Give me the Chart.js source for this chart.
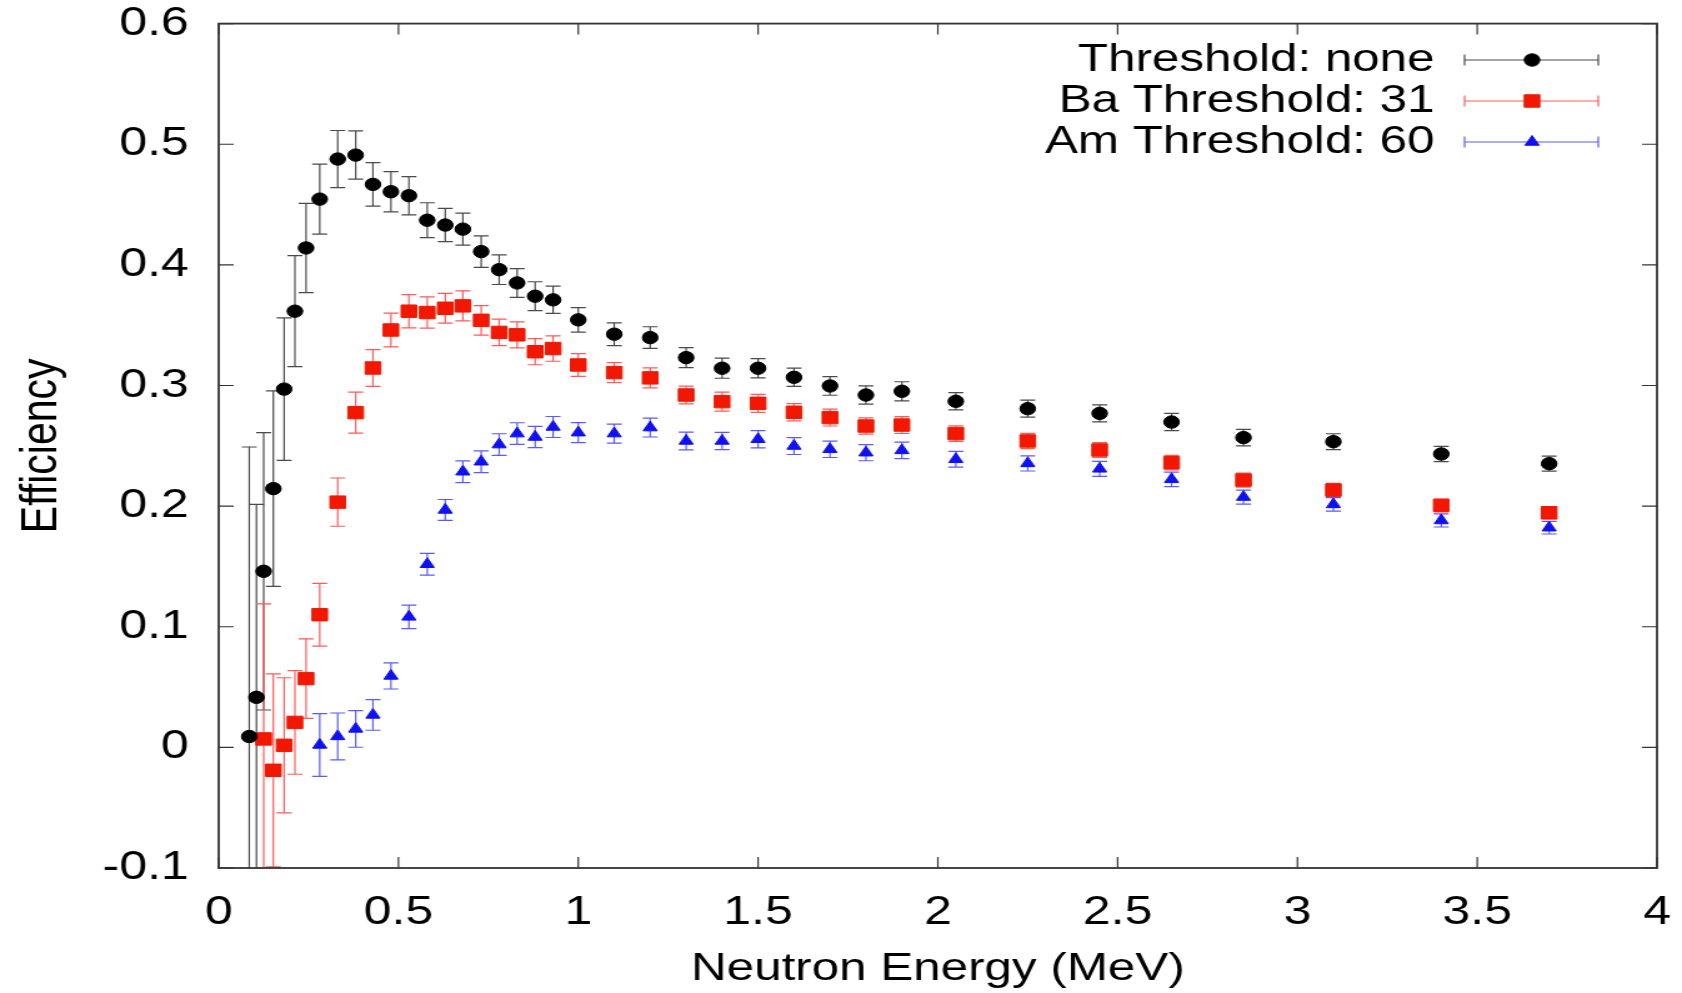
<!DOCTYPE html>
<html lang="en">

<head>
    <meta charset="UTF-8">
    <title>Efficiency vs Neutron Energy</title>
    <script src="https://cdn.jsdelivr.net/npm/chart.js"></script>
    <style>
        html, body { margin: 0; padding: 0; background: #fff; overflow: hidden; }
        /* gnuplot output was wide: draw at 1346 px and stretch to 1682 */
        #wrap { width: 1346px; height: 993px; transform: scaleX(1.24963); transform-origin: 0 0; }
    </style>
</head>

<body>
    <div id="wrap"><canvas id="effChart" width="1346" height="993"></canvas></div>
</body>

</html>
<script>
    // neutron energies (MeV)
    const energias = [0.085, 0.105, 0.125, 0.152, 0.182, 0.212, 0.243, 0.281, 0.331, 0.381,
        0.429, 0.479, 0.529, 0.58, 0.63, 0.679, 0.73, 0.78, 0.83, 0.88,
        0.93, 1.0, 1.1, 1.2, 1.3, 1.4, 1.5, 1.6, 1.7, 1.8,
        1.9, 2.05, 2.25, 2.45, 2.65, 2.85, 3.1, 3.4, 3.7];

    // no threshold: all energies
    const efNone = [0.009, 0.0415, 0.146, 0.2145, 0.297, 0.3616, 0.414, 0.4545, 0.4877, 0.491,
        0.4667, 0.4606, 0.4573, 0.437, 0.433, 0.4296, 0.411, 0.396, 0.385, 0.374,
        0.371, 0.3544, 0.3425, 0.3397, 0.3231, 0.3143, 0.3143, 0.3068, 0.2996, 0.2921,
        0.2952, 0.2869, 0.2808, 0.2769, 0.2697, 0.2568, 0.2534, 0.2432, 0.2352];
    const errNone = [0.24, 0.16, 0.115, 0.081, 0.059, 0.046, 0.037, 0.029, 0.0237, 0.020,
        0.018, 0.0167, 0.0158, 0.0145, 0.0138, 0.0133, 0.0131, 0.0123, 0.0119, 0.012,
        0.0113, 0.0101, 0.0094, 0.009, 0.0083, 0.0083, 0.008, 0.0076, 0.0077, 0.0075,
        0.0079, 0.0072, 0.007, 0.007, 0.0072, 0.0068, 0.0066, 0.0064, 0.0062];

    // Ba threshold 31: starts at 0.125 MeV
    const inicioBa = 2;
    const efBa = [0.007, -0.019, 0.0017, 0.0207, 0.057, 0.110, 0.2033, 0.2775, 0.3145, 0.346,
        0.3616, 0.3605, 0.364, 0.366, 0.354, 0.344, 0.342, 0.328, 0.3306, 0.317,
        0.3107, 0.3063, 0.2921, 0.2866, 0.2852, 0.2778, 0.2734, 0.2664, 0.2672, 0.2601,
        0.254, 0.2465, 0.236, 0.2216, 0.2133, 0.2006, 0.1945];
    const errBa = [0.112, 0.08, 0.056, 0.043, 0.033, 0.026, 0.020, 0.017, 0.0152, 0.014,
        0.0138, 0.013, 0.0123, 0.0124, 0.0122, 0.011, 0.0108, 0.0108, 0.0105, 0.0094,
        0.0083, 0.0083, 0.0073, 0.0079, 0.0075, 0.0072, 0.007, 0.0068, 0.007, 0.0065,
        0.0063, 0.0062, 0.006, 0.0058, 0.0055, 0.0053, 0.0052];

    // Am threshold 60: starts at 0.28 MeV
    const inicioAm = 7;
    const efAm = [0.002, 0.0091, 0.0153, 0.0269, 0.0592, 0.1082, 0.1518, 0.1968, 0.2285, 0.2368,
        0.251, 0.2601, 0.2573, 0.2656, 0.2609, 0.2601, 0.2651, 0.254, 0.254, 0.2554,
        0.2498, 0.2471, 0.2443, 0.2462, 0.2388, 0.2354, 0.2309, 0.2222, 0.2075, 0.2014,
        0.1881, 0.1821];
    const errAm = [0.026, 0.0194, 0.0152, 0.0127, 0.0108, 0.0097, 0.009, 0.0087, 0.009, 0.009,
        0.009, 0.009, 0.0088, 0.0087, 0.0083, 0.0078, 0.0078, 0.0073, 0.0072, 0.0072,
        0.007, 0.0068, 0.0067, 0.0068, 0.0065, 0.0063, 0.0062, 0.006, 0.0058, 0.0056,
        0.0054, 0.0052];

    const xTicks = [0, 0.5, 1, 1.5, 2, 2.5, 3, 3.5, 4];
    const xTickLabels = ['0', '0.5', '1', '1.5', '2', '2.5', '3', '3.5', '4'];
    const yTicks = [-0.1, 0, 0.1, 0.2, 0.3, 0.4, 0.5, 0.6];
    const yTickLabels = ['-0.1', '0', '0.1', '0.2', '0.3', '0.4', '0.5', '0.6'];

    function montarPontos(valores, inicio) {
        return valores.map((v, i) => ({ x: energias[inicio + i], y: v }));
    }

    // vertical error bars with caps, under the markers
    const barrasErro = {
        id: 'barrasErro',
        beforeDatasetsDraw(chart) {
            const ctx = chart.ctx;
            const area = chart.chartArea;
            const sx = chart.scales.x, sy = chart.scales.y;
            ctx.save();
            ctx.beginPath();
            ctx.rect(area.left, area.top, area.right - area.left, area.bottom - area.top);
            ctx.clip();
            chart.data.datasets.forEach(ds => {
                ctx.strokeStyle = ds.corErro;
                ctx.lineWidth = 1.2;
                ds.data.forEach((p, i) => {
                    const e = ds.erros[i];
                    const px = sx.getPixelForValue(p.x);
                    const cima = sy.getPixelForValue(p.y + e);
                    const baixo = sy.getPixelForValue(p.y - e);
                    ctx.beginPath();
                    ctx.moveTo(px, cima); ctx.lineTo(px, baixo);
                    ctx.moveTo(px - 6, cima); ctx.lineTo(px + 6, cima);
                    ctx.moveTo(px - 6, baixo); ctx.lineTo(px + 6, baixo);
                    ctx.stroke();
                });
            });
            ctx.restore();
        }
    };

    // frame with inward ticks on all four sides, plus the key
    const moldura = {
        id: 'moldura',
        afterDraw(chart) {
            const ctx = chart.ctx;
            const a = chart.chartArea;
            const sx = chart.scales.x, sy = chart.scales.y;
            ctx.save();
            ctx.strokeStyle = '#333';
            ctx.lineWidth = 1.2;
            ctx.beginPath();
            xTicks.forEach(v => {
                const px = sx.getPixelForValue(v);
                ctx.moveTo(px, a.bottom); ctx.lineTo(px, a.bottom - 11);
                ctx.moveTo(px, a.top); ctx.lineTo(px, a.top + 11);
            });
            yTicks.forEach(v => {
                const py = sy.getPixelForValue(v);
                ctx.moveTo(a.left, py); ctx.lineTo(a.left + 12, py);
                ctx.moveTo(a.right, py); ctx.lineTo(a.right - 12, py);
            });
            ctx.stroke();
            ctx.lineWidth = 1.8;
            ctx.strokeRect(a.left, a.top, a.right - a.left, a.bottom - a.top);

            // key
            ctx.font = '39.5px "Liberation Sans", Arial, sans-serif';
            ctx.textAlign = 'right';
            ctx.textBaseline = 'middle';
            chart.data.datasets.forEach((ds, i) => {
                const y = 60 + i * 41;
                ctx.fillStyle = '#000';
                ctx.fillText(ds.label, 1148, y);
                ctx.strokeStyle = ds.corErro;
                ctx.lineWidth = 1.2;
                ctx.beginPath();
                ctx.moveTo(1172, y); ctx.lineTo(1279, y);
                ctx.moveTo(1172, y - 5.5); ctx.lineTo(1172, y + 5.5);
                ctx.moveTo(1279, y - 5.5); ctx.lineTo(1279, y + 5.5);
                ctx.stroke();
                ctx.fillStyle = ds.backgroundColor;
                ctx.strokeStyle = ds.backgroundColor;
                ctx.lineWidth = 1;
                Chart.helpers.drawPoint(ctx, {
                    pointStyle: ds.pointStyle, radius: ds.pointRadius, rotation: 0, borderWidth: 1
                }, 1226, y);
            });
            ctx.restore();
        }
    };

    Chart.defaults.font.family = '"Liberation Sans", Arial, sans-serif';
    Chart.defaults.color = '#000';

    const dados = {
        datasets: [{
            label: 'Threshold: none',
            data: montarPontos(efNone, 0),
            erros: errNone,
            corErro: '#4a4a4a',
            backgroundColor: '#000000',
            borderColor: '#000000',
            pointStyle: 'circle',
            pointRadius: 6.2,
            pointBorderWidth: 1
        }, {
            label: 'Ba Threshold: 31',
            data: montarPontos(efBa, inicioBa),
            erros: errBa,
            corErro: '#ff5a5a',
            backgroundColor: '#f21800',
            borderColor: '#f21800',
            pointStyle: 'rect',
            pointRadius: 8.8,
            pointBorderWidth: 1
        }, {
            label: 'Am Threshold: 60',
            data: montarPontos(efAm, inicioAm),
            erros: errAm,
            corErro: '#5a5aff',
            backgroundColor: '#1010f5',
            borderColor: '#1010f5',
            pointStyle: 'triangle',
            pointRadius: 6.5,
            pointBorderWidth: 1
        }]
    };

    const config = {
        type: 'scatter',
        data: dados,
        options: {
            responsive: false,
            animation: false,
            devicePixelRatio: 1,
            layout: { padding: { top: 23.6, right: 20, left: 0, bottom: 0 } },
            plugins: { legend: { display: false }, tooltip: { enabled: false } },
            scales: {
                x: {
                    type: 'linear', min: 0, max: 4,
                    grid: { display: false, drawTicks: false },
                    border: { display: false },
                    afterBuildTicks: s => { s.ticks = xTicks.map(v => ({ value: v })); },
                    afterFit: s => {
                        s.height = 125;
                        s.paddingLeft = 0;
                        s.paddingRight = 0;
                    },
                    ticks: {
                        padding: 21, autoSkip: false, maxRotation: 0,
                        font: { size: 40 },
                        callback: (v, i) => xTickLabels[i]
                    },
                    title: {
                        display: true, text: 'Neutron Energy (MeV)',
                        font: { size: 39.5 }, padding: { top: 0, bottom: 0 }
                    }
                },
                y: {
                    type: 'linear', min: -0.1, max: 0.6,
                    grid: { display: false, drawTicks: false },
                    border: { display: false },
                    afterBuildTicks: s => { s.ticks = yTicks.map(v => ({ value: v })); },
                    afterFit: s => {
                        s.width = 175;
                        s.paddingTop = 0;
                        s.paddingBottom = 0;
                    },
                    ticks: {
                        padding: 24, autoSkip: false,
                        font: { size: 40 },
                        callback: (v, i) => yTickLabels[i]
                    },
                    title: {
                        display: true, text: 'Efficiency',
                        font: { size: 41 }, padding: { top: 9, bottom: 0 }
                    }
                }
            }
        },
        plugins: [barrasErro, moldura]
    };

    const grafico = new Chart(document.querySelector('#effChart'), config);
</script>
